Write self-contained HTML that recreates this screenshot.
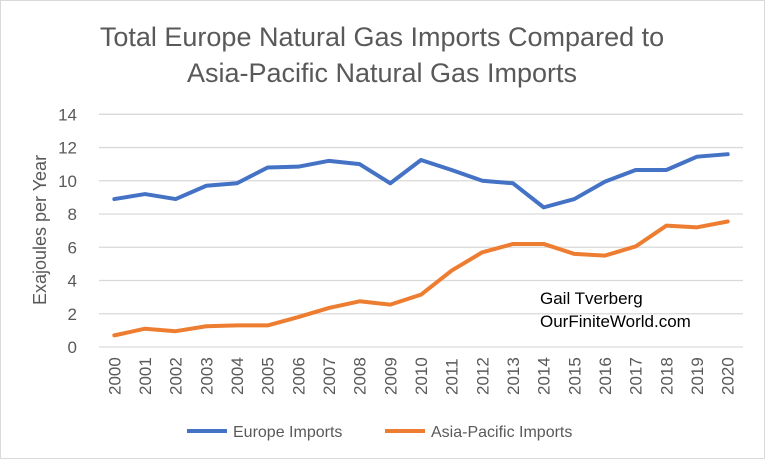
<!DOCTYPE html>
<html><head><meta charset="utf-8"><style>
body{margin:0;background:#fff;font-family:"Liberation Sans",sans-serif;}
svg text{font-family:"Liberation Sans",sans-serif;}
</style></head><body>
<svg id="c" width="768" height="461" viewBox="0 0 768 461">
<rect x="0.5" y="0.5" width="764" height="458" fill="#fff" stroke="#d9d9d9"/>
<text x="382" y="46" text-anchor="middle" font-size="27" fill="#595959">Total Europe Natural Gas Imports Compared to</text>
<text x="382" y="82" text-anchor="middle" font-size="27" fill="#595959">Asia-Pacific Natural Gas Imports</text>
<text transform="translate(46,230) rotate(-90)" text-anchor="middle" font-size="18" fill="#595959">Exajoules per Year</text>
<text x="540" y="304" font-size="17" fill="#000">Gail Tverberg</text>
<text x="540" y="327" font-size="17" fill="#000">OurFiniteWorld.com</text>
<g id="grid"></g><g id="series"></g><g id="xlabels"></g>
<line x1="187" y1="431" x2="227" y2="431" stroke="#4472c4" stroke-width="4"/>
<text x="233" y="437" font-size="16" fill="#595959">Europe Imports</text>
<line x1="385" y1="431" x2="425" y2="431" stroke="#ed7d31" stroke-width="4"/>
<text x="431" y="437" font-size="16" fill="#595959">Asia-Pacific Imports</text>
</svg>
<script>
const years=[2000,2001,2002,2003,2004,2005,2006,2007,2008,2009,2010,2011,2012,2013,2014,2015,2016,2017,2018,2019,2020];
const europe=[8.9,9.2,8.9,9.7,9.85,10.8,10.85,11.2,11.0,9.85,11.25,10.65,10.0,9.85,8.4,8.9,9.95,10.65,10.65,11.45,11.6];
const asia=[0.7,1.1,0.95,1.25,1.3,1.3,1.8,2.35,2.75,2.55,3.15,4.6,5.7,6.2,6.2,5.6,5.5,6.05,7.3,7.2,7.55];
const yTicks=[0,2,4,6,8,10,12,14];
const NS="http://www.w3.org/2000/svg";
const L=99,R=743,T=114.3,B=347;
const xs=i=>L+(R-L)/years.length*(i+0.5);
const ys=v=>B-(B-T)*v/14;
function mk(t,a,p){const e=document.createElementNS(NS,t);for(const k in a)e.setAttribute(k,a[k]);document.getElementById(p).appendChild(e);return e;}
yTicks.forEach(v=>{
 const l=mk('line',{x1:L,x2:R,y1:ys(v),y2:ys(v),stroke:'#d9d9d9','stroke-width':1.3},'grid');
 
 
 const t=mk('text',{x:77,y:ys(v)+6,'text-anchor':'end','font-size':17,fill:'#595959'},'grid');
 t.textContent=v;
 
 
});
years.forEach((y,i)=>{
 const t=mk('text',{transform:`translate(${xs(i)+6},395) rotate(-90)`,'font-size':17,fill:'#595959'},'xlabels');
 t.textContent=y;
 
 
});
[[europe,'#4472c4','europe-line'],[asia,'#ed7d31','asia-pacific-line']].forEach(([d,c,n])=>{
 const p=mk('polyline',{points:d.map((v,i)=>xs(i)+','+ys(v)).join(' '),fill:'none',stroke:c,'stroke-width':4,'stroke-linejoin':'round','stroke-linecap':'round'},'series');
 
 
});
</script>
</body></html>
